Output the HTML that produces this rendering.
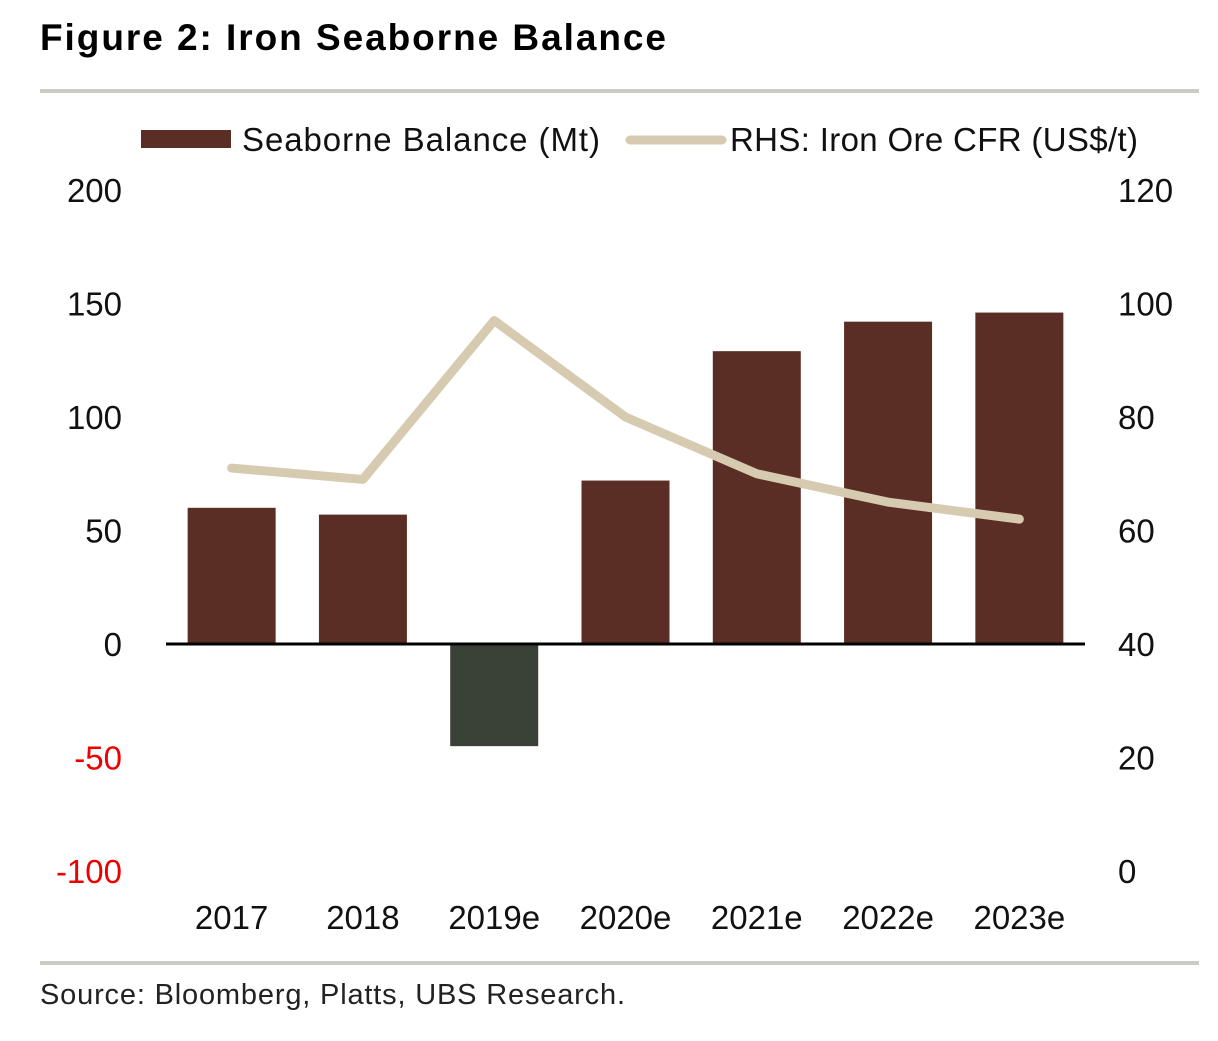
<!DOCTYPE html>
<html><head><meta charset="utf-8"><style>
body{margin:0;background:#fff;width:1218px;height:1036px;overflow:hidden;font-family:"Liberation Sans",sans-serif}
</style></head><body>
<svg id="c" width="1218" height="1036" xmlns="http://www.w3.org/2000/svg">
<text x="40" y="50" font-size="37" font-weight="bold" fill="#000" textLength="626">Figure 2: Iron Seaborne Balance</text>
<rect x="40" y="89" width="1159" height="4" fill="#c8ccc4"/>
<rect x="40" y="961" width="1159" height="4" fill="#c8ccc4"/>
<text x="40" y="1004" font-size="29" fill="#222" textLength="585">Source:  Bloomberg, Platts, UBS Research.</text>
<g>
<rect x="141" y="130" width="90" height="18" fill="#5a2e24"/>
<text x="242" y="151" font-size="33" fill="#111" textLength="358">Seaborne Balance (Mt)</text>
<line x1="630" y1="140" x2="722" y2="140" stroke="#d6cbb0" stroke-width="9" stroke-linecap="round"/>
<text x="730" y="151" font-size="33" fill="#111" textLength="408">RHS: Iron Ore CFR (US$/t)</text>
</g>
<g id="plot"></g>
</svg>
<script>
const categories=["2017","2018","2019e","2020e","2021e","2022e","2023e"];
const balance=[60,57,-45,72,129,142,146];
const price=[71,69,97,80,70,65,62];
const leftTicks=[200,150,100,50,0,-50,-100];
const rightTicks=[120,100,80,60,40,20,0];
const NS="http://www.w3.org/2000/svg";
const g=document.getElementById('plot');
const x0=166,x1=1085,band=(x1-x0)/categories.length;
const yL=v=>644-v*2.27;
const yR=v=>871-v*5.675;
const xC=i=>x0+band*(i+0.5);
function mk(t,a){const e=document.createElementNS(NS,t);for(const k in a)e.setAttribute(k,a[k]);g.appendChild(e);return e;}
leftTicks.forEach(v=>{const t=mk('text',{x:122,y:yL(v)+12,'font-size':33,'text-anchor':'end',fill:v<0?'#e00':'#111'});t.textContent=v;

});
rightTicks.forEach(v=>{const t=mk('text',{x:1118,y:yR(v)+12,'font-size':33,fill:'#111'});t.textContent=v;

});
balance.forEach((v,i)=>{const y=Math.min(yL(v),yL(0));const r=mk('rect',{x:xC(i)-44,y:y,width:88,height:Math.abs(yL(v)-yL(0)),fill:v<0?'#3a4238':'#5a2e24'});

});
const ax=mk('line',{x1:x0,x2:x1,y1:yL(0),y2:yL(0),stroke:'#000','stroke-width':3});


const p=mk('polyline',{points:price.map((v,i)=>xC(i)+','+yR(v)).join(' '),fill:'none',stroke:'#d6cbb0','stroke-width':9,'stroke-linejoin':'round','stroke-linecap':'round'});


categories.forEach((c,i)=>{const t=mk('text',{x:xC(i),y:929,'font-size':33,'text-anchor':'middle',fill:'#111'});t.textContent=c;

});
</script>
</body></html>
